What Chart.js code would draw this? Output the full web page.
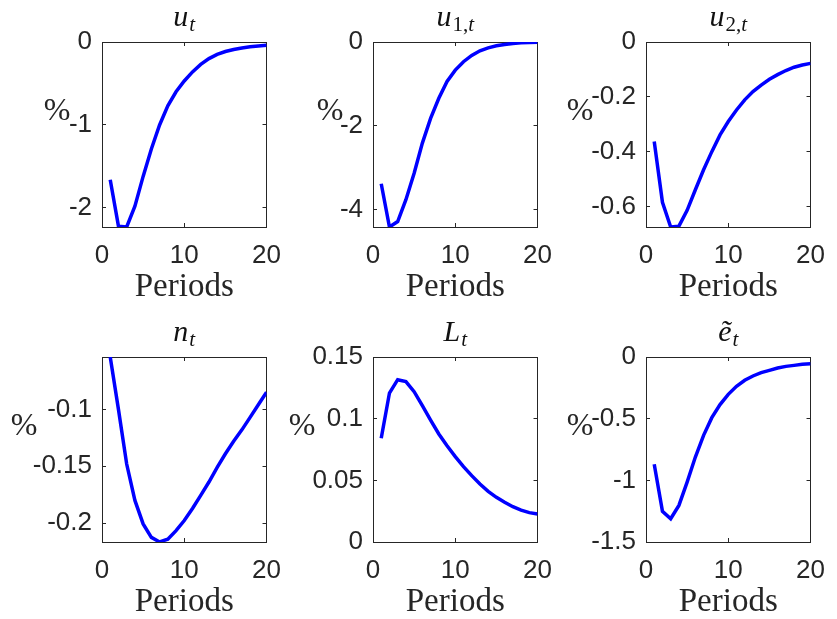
<!DOCTYPE html>
<html>
<head>
<meta charset="utf-8">
<script src="https://cdn.jsdelivr.net/npm/chart.js@4/dist/chart.umd.min.js"></script>
<style>
  html, body { margin: 0; padding: 0; background: #fff; }
  #fig { position: relative; width: 837px; height: 619px; overflow: hidden; background: #fff; }
</style>
</head>
<body>
<div id="fig"></div>
<script>
// Periodos e respostas
const periods = [1, 2, 3, 4, 5, 6, 7, 8, 9, 10, 11, 12, 13, 14, 15, 16, 17, 18, 19, 20];
const uT  = [-1.66, -2.22, -2.23, -1.98, -1.62, -1.29, -1.0, -0.77, -0.6, -0.47, -0.36, -0.27, -0.2, -0.15, -0.115, -0.09, -0.072, -0.058, -0.048, -0.04];
const u1T = [-3.38, -4.41, -4.28, -3.76, -3.13, -2.41, -1.82, -1.34, -0.94, -0.67, -0.47, -0.32, -0.21, -0.14, -0.09, -0.06, -0.035, -0.02, -0.01, -0.005];
const u2T = [-0.363, -0.585, -0.675, -0.672, -0.614, -0.539, -0.466, -0.4, -0.339, -0.29, -0.248, -0.211, -0.181, -0.157, -0.136, -0.119, -0.104, -0.092, -0.084, -0.078];
const nT  = [-0.054, -0.1, -0.148, -0.18, -0.2006, -0.2124, -0.2165, -0.214, -0.2065, -0.1976, -0.187, -0.1756, -0.1638, -0.151, -0.139, -0.128, -0.118, -0.107, -0.096, -0.085];
const lT  = [0.0841, 0.1208, 0.1316, 0.13, 0.1219, 0.1105, 0.0989, 0.0876, 0.0781, 0.0692, 0.0611, 0.0538, 0.047, 0.0411, 0.0362, 0.0322, 0.0286, 0.0259, 0.0238, 0.0227];
const eT  = [-0.87, -1.251, -1.311, -1.203, -1.014, -0.811, -0.635, -0.492, -0.386, -0.303, -0.238, -0.189, -0.154, -0.127, -0.108, -0.089, -0.076, -0.068, -0.059, -0.054];

// ticks e limites dos eixos
const xTicks = [0, 10, 20];
const xLim = [0, 20];
const ticksU  = [-2, -1, 0];
const ticksU1 = [-4, -2, 0];
const ticksU2 = [-0.6, -0.4, -0.2, 0];
const ticksN  = [-0.2, -0.15, -0.1];
const ticksL  = [0, 0.05, 0.1, 0.15];
const ticksE  = [-1.5, -1, -0.5, 0];
const limU  = [-2.23, 0];
const limU1 = [-4.41, 0];
const limU2 = [-0.675, 0];
const limN  = [-0.2165, -0.054];
const limL  = [0, 0.15];
const limE  = [-1.5, 0];

// titulos (letra principal + subscrito)
const titleMain = ['u', 'u', 'u', 'n', 'L', 'ẽ'];
const titleSub  = ['t', '1,t', '2,t', 't', 't', 't'];
const xLabel = 'Periods';
const yLabel = '%';

const panels = [
    { values: uT,  ticks: ticksU,  lim: limU },
    { values: u1T, ticks: ticksU1, lim: limU1 },
    { values: u2T, ticks: ticksU2, lim: limU2 },
    { values: nT,  ticks: ticksN,  lim: limN },
    { values: lT,  ticks: ticksL,  lim: limL },
    { values: eT,  ticks: ticksE,  lim: limE }
];

// posicao das areas de plotagem na figura
const plotLeft = [102, 373, 646];
const plotTop = [42, 357];
const plotW = 171;
const plotH = 185;
const pctOffset = [45, 43, 66, 78, 71, 66];

const axisColor = '#262626';
const serif = '"Liberation Serif", "DejaVu Serif", serif';
const sans = '"Liberation Sans", Arial, sans-serif';

// desenha o titulo com subscrito e o "%" horizontal
const panelText = {
    id: 'panelText',
    afterDraw(chart, args, opts) {
        const ctx = chart.ctx;
        const a = chart.chartArea;
        ctx.save();
        ctx.fillStyle = '#111';
        ctx.textBaseline = 'alphabetic';
        ctx.textAlign = 'left';

        const mainFont = 'italic 30px ' + serif;
        const subFont = ch => (/[a-z]/i.test(ch) ? 'italic ' : '') + '21px ' + serif;

        ctx.font = mainFont;
        let total = ctx.measureText(opts.main).width + 1;
        for (const ch of opts.sub) {
            ctx.font = subFont(ch);
            total += ctx.measureText(ch).width;
        }
        let x = (a.left + a.right) / 2 - total / 2;
        const y = a.top - 16;
        ctx.font = mainFont;
        ctx.fillText(opts.main, x, y);
        x += ctx.measureText(opts.main).width + 1;
        for (const ch of opts.sub) {
            ctx.font = subFont(ch);
            ctx.fillText(ch, x, y + 5);
            x += ctx.measureText(ch).width;
        }

        // rotulo do eixo y
        ctx.fillStyle = axisColor;
        ctx.font = '32px ' + serif;
        ctx.textAlign = 'center';
        ctx.textBaseline = 'middle';
        ctx.fillText(yLabel, a.left - opts.pctOffset, (a.top + a.bottom) / 2 - 23);
        ctx.restore();
    }
};

function setTicks(vals) {
    return scale => { scale.ticks = vals.map(v => ({ value: v })); };
}

function makePanel(p, i) {
    const col = i % 3;
    const row = Math.floor(i / 3);
    const yAxisW = 100, topPad = 42, xAxisH = 80, rightPad = 25;
    const w = yAxisW + plotW + rightPad;
    const h = topPad + plotH + xAxisH;

    const canvas = document.createElement('canvas');
    canvas.width = w;
    canvas.height = h;
    canvas.style.position = 'absolute';
    canvas.style.left = (plotLeft[col] - yAxisW) + 'px';
    canvas.style.top = (plotTop[row] - topPad) + 'px';
    canvas.style.width = w + 'px';
    canvas.style.height = h + 'px';
    document.getElementById('fig').appendChild(canvas);

    const gridInward = { drawOnChartArea: false, drawTicks: true, tickLength: -4, color: axisColor, lineWidth: 1 };
    const border = { display: true, color: axisColor, width: 1 };

    new Chart(canvas, {
        type: 'line',
        data: {
            datasets: [{
                data: periods.map((x, k) => ({ x: x, y: p.values[k] })),
                xAxisID: 'x',
                yAxisID: 'y',
                borderColor: '#0000ff',
                borderWidth: 3.5,
                pointRadius: 0,
                tension: 0,
                fill: false
            }]
        },
        options: {
            responsive: false,
            animation: false,
            layout: { padding: { left: 0, top: topPad, right: rightPad, bottom: 0 } },
            plugins: {
                legend: { display: false },
                tooltip: { enabled: false },
                panelText: { main: titleMain[i], sub: titleSub[i], pctOffset: pctOffset[i] }
            },
            scales: {
                x: {
                    type: 'linear',
                    position: 'bottom',
                    min: xLim[0],
                    max: xLim[1],
                    afterBuildTicks: setTicks(xTicks),
                    afterFit: s => { s.height = xAxisH; },
                    grid: gridInward,
                    border: border,
                    ticks: {
                        autoSkip: false, maxRotation: 0, padding: 17,
                        color: axisColor, font: { family: sans, size: 26 },
                        callback: v => String(v)
                    },
                    title: {
                        display: true, text: xLabel, color: axisColor,
                        font: { family: serif, size: 33 }, padding: { top: 0, bottom: 0 }
                    }
                },
                y: {
                    type: 'linear',
                    position: 'left',
                    min: p.lim[0],
                    max: p.lim[1],
                    afterBuildTicks: setTicks(p.ticks),
                    afterFit: s => { s.width = yAxisW; },
                    grid: gridInward,
                    border: border,
                    ticks: {
                        autoSkip: false, padding: 14,
                        color: axisColor, font: { family: sans, size: 26 },
                        callback: v => String(v)
                    }
                },
                xTop: {
                    type: 'linear',
                    position: 'top',
                    min: xLim[0],
                    max: xLim[1],
                    afterBuildTicks: setTicks(xTicks),
                    afterFit: s => { s.height = 0; },
                    grid: gridInward,
                    border: border,
                    ticks: { display: false }
                },
                yRight: {
                    type: 'linear',
                    position: 'right',
                    min: p.lim[0],
                    max: p.lim[1],
                    afterBuildTicks: setTicks(p.ticks),
                    afterFit: s => { s.width = 0; },
                    grid: gridInward,
                    border: border,
                    ticks: { display: false }
                }
            }
        },
        plugins: [panelText]
    });
}

panels.forEach(makePanel);
</script>
</body>
</html>
